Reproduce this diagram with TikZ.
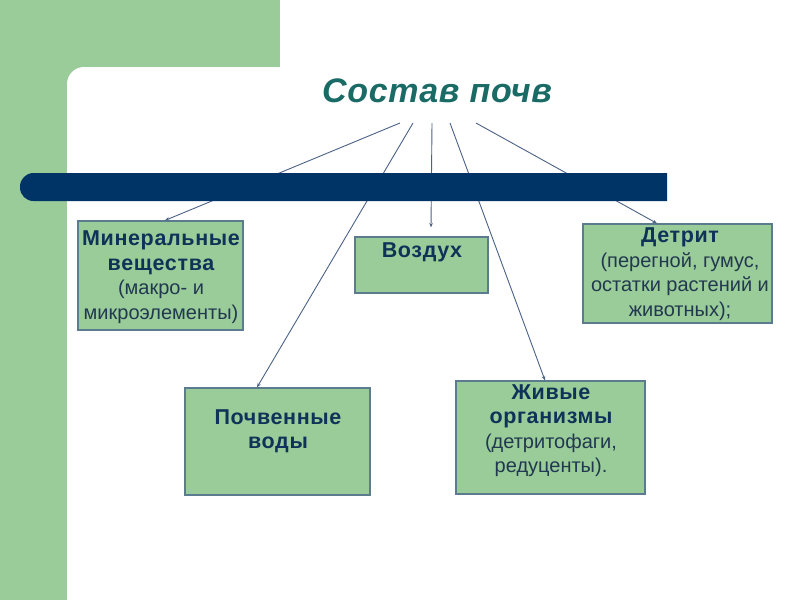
\documentclass[tikz,border=0pt]{standalone}
\usepackage{fontspec}
\setmainfont{Liberation Sans}[BoldFeatures={LetterSpace=3}, BoldItalicFeatures={LetterSpace=2}]
\usetikzlibrary{arrows.meta,calc}
\definecolor{bggreen}{HTML}{99CC99}
\definecolor{boxgreen}{HTML}{99CC99}
\definecolor{barnavy}{HTML}{003366}
\definecolor{titlec}{HTML}{1A6B66}
\definecolor{linec}{HTML}{4A6287}
\definecolor{boxline}{HTML}{5B7C8E}
\definecolor{txtbold}{HTML}{0F3358}
\definecolor{txtreg}{HTML}{22384F}
\newcommand\hbf[1]{{\fontsize{21.5}{24.5}\selectfont\bfseries\color{txtbold}#1}}
\begin{document}
\begin{tikzpicture}[x=1pt,y=-1pt,
  box/.style={draw=boxline, fill=boxgreen, line width=1.2pt, inner sep=0pt},
  conn/.style={draw=linec, line width=0.9pt, -{Stealth[length=4.5pt,width=3.5pt]}},
  txt/.style={font=\fontsize{20}{24.5}\selectfont, align=center, inner sep=0pt, anchor=north}
]
\useasboundingbox (0,0) rectangle (800,600);
% background
\fill[white] (0,0) rectangle (800,600);
\fill[bggreen] (0,0) rectangle (280,67);
\fill[bggreen] (0,0) rectangle (67,600);
\fill[bggreen] (67,67) rectangle (95,95);
\fill[white, rounded corners=17pt] (67,67) rectangle (300,300);

% title
\node[font=\fontsize{34}{40}\selectfont\bfseries\itshape, text=titlec, inner sep=0pt] (title) at (437,91) {Состав почв};

% hub points
\coordinate (h1) at (400,123);
\coordinate (h2) at (413,123);
\coordinate (h3) at (432,123);
\coordinate (h4) at (450,123);
\coordinate (h5) at (476,123);

% boxes
\node[box, minimum width=165pt, minimum height=109pt] (min) at (160.5,275.5) {};
\node[box, minimum width=133pt, minimum height=56pt] (air) at (421.5,265) {};
\node[box, minimum width=189pt, minimum height=99pt] (det) at (677.5,273.5) {};
\node[box, minimum width=185pt, minimum height=107pt] (wat) at (277.5,441.5) {};
\node[box, minimum width=189pt, minimum height=113pt] (liv) at (550.5,437.5) {};

% connectors
\draw[conn] (h1) -- ($(min.north)+(4.5,0)$);
\draw[conn] (h2) -- ($(wat.north)+(-20.5,0)$);
\draw[conn] (h3) -- ($(air.north)+(9.5,-9)$);
\draw[conn] (h4) -- ($(liv.north)+(-5.5,0)$);
\draw[conn] (h5) -- ($(det.north)+(-20.5,0)$);

% bar
\fill[barnavy] (667,173) [rounded corners=13.5pt] -- (20,173) -- (20,201) [sharp corners] -- (667,201) -- cycle;

% texts
\node[txt, text=txtreg] (mint) at (161,231)
  {\hbf{Минеральные}\\\hbf{вещества}\\(макро- и\\микроэлементы)};
\node[txt] (airt) at (422,243) {\hbf{Воздух}};
\node[txt, text=txtreg] (dett) at (680,228)
  {\hbf{Детрит}\\(перегной, гумус,\\остатки растений и\\животных);};
\node[txt] (watt) at (278,409) {\hbf{Почвенные}\\\hbf{воды}};
\node[txt, text=txtreg] (livt) at (551,384)
  {\hbf{Живые}\\\hbf{организмы}\\(детритофаги,\\редуценты).};
\end{tikzpicture}
\end{document}
